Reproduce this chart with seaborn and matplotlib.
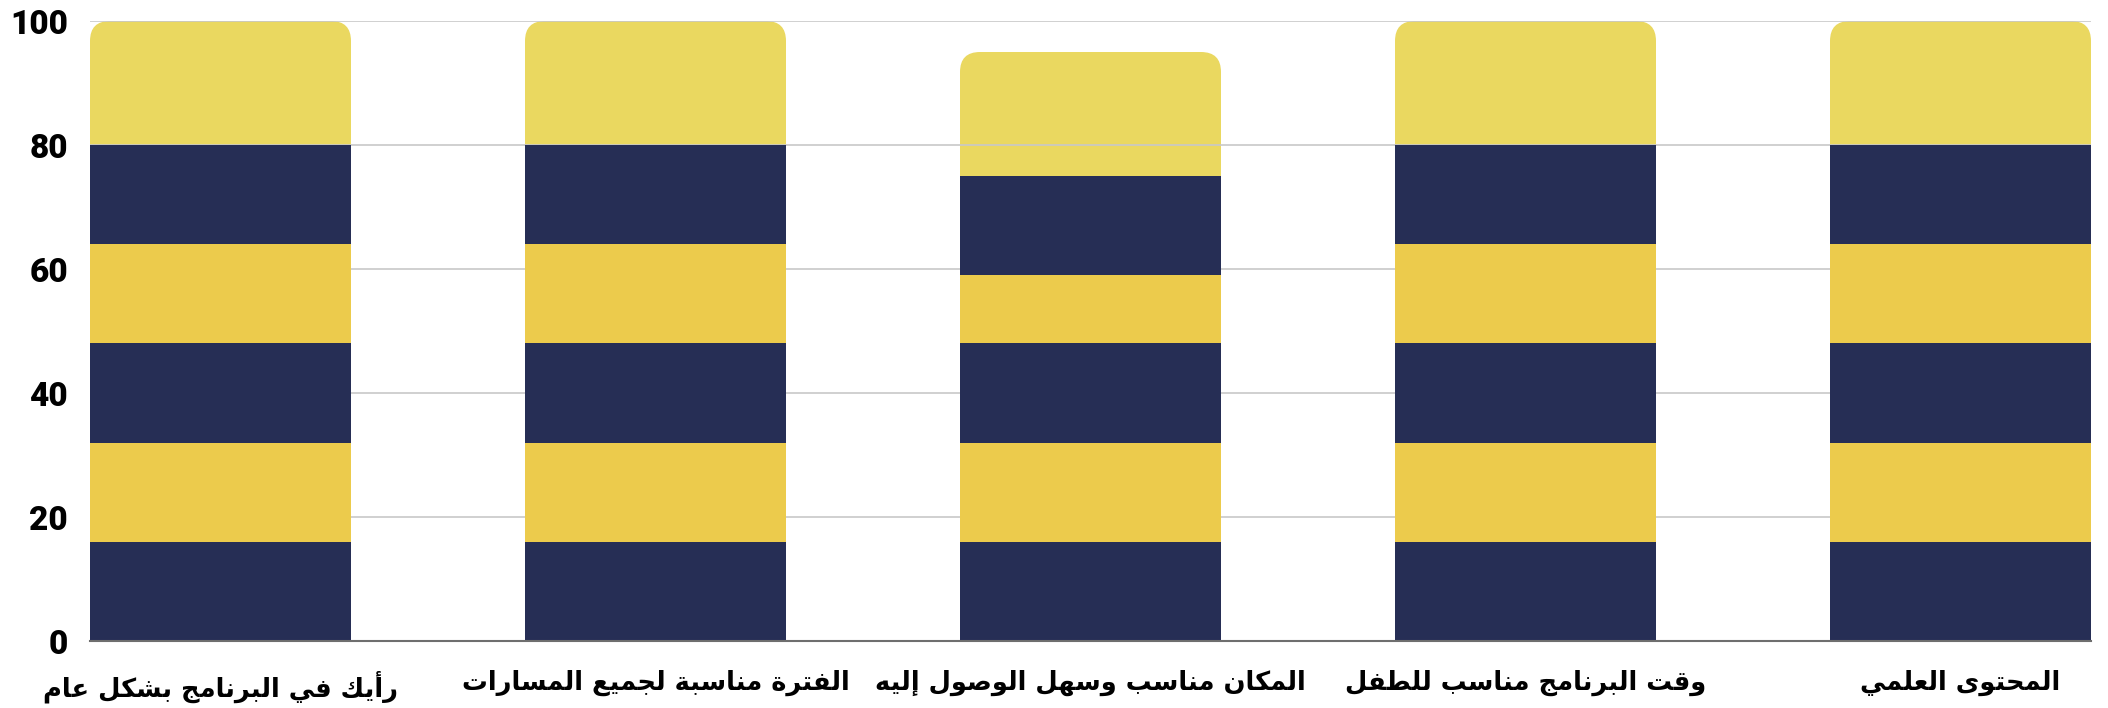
import matplotlib
matplotlib.use("Agg")
import matplotlib.pyplot as plt
from matplotlib.patches import FancyBboxPatch
import seaborn as sns
import pandas as pd
import numpy as np

# ---- data (left to right as displayed) ----
categories = [
    "رأيك في البرنامج بشكل عام",
    "الفترة مناسبة لجميع المسارات",
    "المكان مناسب وسهل الوصول إليه",
    "وقت البرنامج مناسب للطفل",
    "المحتوى العلمي",
]
seg1 = [16, 16, 16, 16, 16]   # navy (bottom)
seg2 = [16, 16, 16, 16, 16]   # yellow
seg3 = [16, 16, 16, 16, 16]   # navy
seg4 = [16, 16, 11, 16, 16]   # yellow
seg5 = [16, 16, 16, 16, 16]   # navy
seg6 = [20, 20, 20, 20, 20]   # light yellow (top)
y_ticks = [0, 20, 40, 60, 80, 100]

segments = [seg1, seg2, seg3, seg4, seg5, seg6]
colors = ["#262E55", "#ECCB4C", "#262E55", "#ECCB4C", "#262E55", "#EAD860"]

# ---- minimal Arabic shaping (matplotlib has no complex text layout) ----
_FORMS = {
    0x0621: (0xFE80, None, None, None),
    0x0622: (0xFE81, 0xFE82, None, None),
    0x0623: (0xFE83, 0xFE84, None, None),
    0x0624: (0xFE85, 0xFE86, None, None),
    0x0625: (0xFE87, 0xFE88, None, None),
    0x0626: (0xFE89, 0xFE8A, 0xFE8B, 0xFE8C),
    0x0627: (0xFE8D, 0xFE8E, None, None),
    0x0628: (0xFE8F, 0xFE90, 0xFE91, 0xFE92),
    0x0629: (0xFE93, 0xFE94, None, None),
    0x062A: (0xFE95, 0xFE96, 0xFE97, 0xFE98),
    0x062B: (0xFE99, 0xFE9A, 0xFE9B, 0xFE9C),
    0x062C: (0xFE9D, 0xFE9E, 0xFE9F, 0xFEA0),
    0x062D: (0xFEA1, 0xFEA2, 0xFEA3, 0xFEA4),
    0x062E: (0xFEA5, 0xFEA6, 0xFEA7, 0xFEA8),
    0x062F: (0xFEA9, 0xFEAA, None, None),
    0x0630: (0xFEAB, 0xFEAC, None, None),
    0x0631: (0xFEAD, 0xFEAE, None, None),
    0x0632: (0xFEAF, 0xFEB0, None, None),
    0x0633: (0xFEB1, 0xFEB2, 0xFEB3, 0xFEB4),
    0x0634: (0xFEB5, 0xFEB6, 0xFEB7, 0xFEB8),
    0x0635: (0xFEB9, 0xFEBA, 0xFEBB, 0xFEBC),
    0x0636: (0xFEBD, 0xFEBE, 0xFEBF, 0xFEC0),
    0x0637: (0xFEC1, 0xFEC2, 0xFEC3, 0xFEC4),
    0x0638: (0xFEC5, 0xFEC6, 0xFEC7, 0xFEC8),
    0x0639: (0xFEC9, 0xFECA, 0xFECB, 0xFECC),
    0x063A: (0xFECD, 0xFECE, 0xFECF, 0xFED0),
    0x0641: (0xFED1, 0xFED2, 0xFED3, 0xFED4),
    0x0642: (0xFED5, 0xFED6, 0xFED7, 0xFED8),
    0x0643: (0xFED9, 0xFEDA, 0xFEDB, 0xFEDC),
    0x0644: (0xFEDD, 0xFEDE, 0xFEDF, 0xFEE0),
    0x0645: (0xFEE1, 0xFEE2, 0xFEE3, 0xFEE4),
    0x0646: (0xFEE5, 0xFEE6, 0xFEE7, 0xFEE8),
    0x0647: (0xFEE9, 0xFEEA, 0xFEEB, 0xFEEC),
    0x0648: (0xFEED, 0xFEEE, None, None),
    0x0649: (0xFEEF, 0xFEF0, None, None),
    0x064A: (0xFEF1, 0xFEF2, 0xFEF3, 0xFEF4),
}
_LAMALEF = {0x0622: (0xFEF5, 0xFEF6), 0x0623: (0xFEF7, 0xFEF8),
            0x0625: (0xFEF9, 0xFEFA), 0x0627: (0xFEFB, 0xFEFC)}


def _dual(c):
    f = _FORMS.get(ord(c)) if c else None
    return f is not None and f[2] is not None


def _joins(c):
    return c is not None and ord(c) in _FORMS and ord(c) != 0x0621


def shape_ar(text):
    chars = list(text)
    out = []
    i = 0
    n = len(chars)
    while i < n:
        c = chars[i]
        code = ord(c)
        prev = chars[i - 1] if i > 0 else None
        if code not in _FORMS:
            out.append(c)
            i += 1
            continue
        jp = _dual(prev)
        if code == 0x0644 and i + 1 < n and ord(chars[i + 1]) in _LAMALEF:
            iso, fin = _LAMALEF[ord(chars[i + 1])]
            out.append(chr(fin if jp else iso))
            i += 2
            continue
        nxt = chars[i + 1] if i + 1 < n else None
        jn = _dual(c) and _joins(nxt)
        f = _FORMS[code]
        if jp and jn:
            g = f[3]
        elif jp:
            g = f[1]
        elif jn:
            g = f[2]
        else:
            g = f[0]
        out.append(chr(g))
        i += 1
    return "".join(out)[::-1]


# ---- build stacked data ----
df = pd.DataFrame({"category": categories})
cum = np.cumsum(np.array(segments), axis=0)

sns.set_theme(style="white")
plt.rcParams["font.family"] = ["DejaVu Sans"]

fig = plt.figure(figsize=(21.08, 7.08), dpi=100)
ax = fig.add_axes([90 / 2108, 1 - 641 / 708, (2091 - 90) / 2108, (641 - 21) / 708])

ax.set_axisbelow(True)
ax.yaxis.grid(True, color="#C8C8C8", linewidth=1.2)

for k in range(len(segments) - 1, -1, -1):
    d = df.copy()
    d["value"] = cum[k]
    n_before = len(ax.patches)
    sns.barplot(data=d, x="category", y="value", color=colors[k],
                saturation=1, width=0.6, ax=ax, linewidth=0, errorbar=None)
    if k == len(segments) - 1:
        top_patches = ax.patches[n_before:]

ax.set_xlim(-0.3, 4.3)
ax.set_ylim(0, 100)

# round the top corners of the full-height bars
fig.canvas.draw()
x0d, y0d = ax.transData.transform((0, 0))
x1d, y1d = ax.transData.transform((1, 1))
px_per_x = abs(x1d - x0d)
px_per_y = abs(y1d - y0d)
radius_px = 20
r_x = radius_px / px_per_x
aspect = (radius_px / px_per_y) / r_x
for p in top_patches:
    x, y = p.get_x(), p.get_y()
    w, h = p.get_width(), p.get_height()
    p.set_visible(False)
    fb = FancyBboxPatch((x, y), w, h,
                        boxstyle=f"round,pad=0,rounding_size={r_x}",
                        mutation_aspect=aspect, facecolor=p.get_facecolor(),
                        edgecolor="none", linewidth=0)
    ax.add_patch(fb)
    fb.set_zorder(0.5)
for p in ax.patches:
    if not isinstance(p, FancyBboxPatch):
        p.set_zorder(0.6)

ax.set_yticks(y_ticks)
ax.set_yticklabels([str(v) for v in y_ticks], fontfamily="Roboto",
                   fontweight=900, fontsize=24, color="#000000")
ax.set_xticks(range(len(categories)))
ax.set_xticklabels([shape_ar(c) for c in categories], fontfamily="DejaVu Sans",
                   fontweight="bold", fontsize=18.5, color="#000000")
ax.tick_params(axis="y", length=0, pad=16)
ax.tick_params(axis="x", length=0, pad=21)

for s in ["top", "right", "left"]:
    ax.spines[s].set_visible(False)
ax.spines["bottom"].set_color("#6E6E6E")
ax.spines["bottom"].set_linewidth(1.5)
ax.spines["bottom"].set_zorder(3)

ax.set_xlabel("")
ax.set_ylabel("")

fig.savefig("out.png", dpi=100, facecolor="white")
